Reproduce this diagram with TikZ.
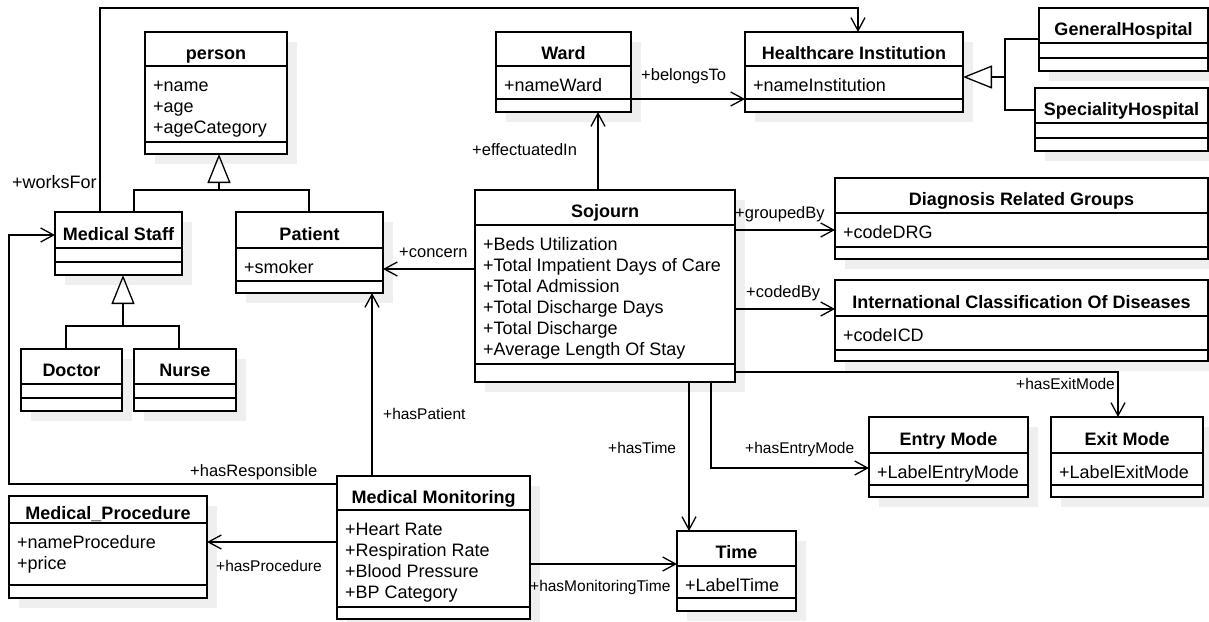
\documentclass[tikz,border=0pt]{standalone}
\usepackage{fontspec}
\setmainfont{Liberation Sans}
\usetikzlibrary{arrows.meta}
\definecolor{shadowgray}{HTML}{EFEFEF}
\tikzset{
  classbox/.style={draw, fill=white, line width=1.3pt, inner sep=0pt, outer sep=0pt, anchor=north west},
  ctitle/.style={font=\fontsize{18}{21}\selectfont\bfseries, anchor=base, inner sep=0pt},
  cattr/.style={font=\fontsize{18}{21}\selectfont, anchor=base west, inner sep=0pt},
  lbl/.style={font=\fontsize{16.5}{19}\selectfont, anchor=base west, inner sep=0pt},
  lblsm/.style={font=\fontsize{15.5}{18}\selectfont, anchor=base west, inner sep=0pt},
  lblbig/.style={font=\fontsize{18}{21}\selectfont, anchor=base west, inner sep=0pt},
  assoc/.style={line width=1.3pt, -{Straight Barb[length=13pt,width=14pt]}},
  gen/.style={line width=1.3pt, -{Triangle[open,length=29pt,width=23pt]}},
  conn/.style={line width=1.3pt},
}
% name, left, top, right, bottom, divider1, divider2, title, attributes
\newcommand\mkclass[9]{%
  \fill[shadowgray] (#2+10,#3+10) rectangle (#4+10,#5+10);
  \node[classbox, minimum width={#4-#2}, minimum height={#5-#3}] (#1) at (#2,#3) {};
  \draw[line width=1.3pt] (#2,#6) -- (#4,#6);
  \draw[line width=1.3pt] (#2,#7) -- (#4,#7);
  \node[ctitle] (#1-t) at ({(#2+#4)/2},{(#3+#6)/2+10}) {#8};
  \ifx\relax#9\relax\else
    \foreach \a [count=\i from 0] in {#9} {\node[cattr] (#1-a\i) at (#2+8,#6+25.5+21*\i) {\a};}
  \fi
}
\begin{document}
\begin{tikzpicture}[x=1pt,y=-1pt]
\useasboundingbox (0,0) rectangle (1209,621);
\fill[white] (0,0) rectangle (1209,621);

% classes
\mkclass{person}{145}{32}{287}{154}{66}{142}{person}{+name,+age,+ageCategory}
\mkclass{ms}{55}{212}{182}{275}{248}{262}{Medical Staff}{}
\mkclass{pat}{236}{212}{383}{293}{248}{281}{Patient}{+smoker}
\mkclass{ward}{496}{32}{631}{112}{66}{99}{Ward}{+nameWard}
\mkclass{hc}{745}{32}{963}{112}{66}{99}{Healthcare Institution}{+nameInstitution}
\mkclass{gh}{1039}{8}{1208}{71}{43}{58}{GeneralHospital}{}
\mkclass{sh}{1035}{88}{1208}{151}{123}{138}{SpecialityHospital}{}
\mkclass{soj}{475}{190}{735}{382}{225}{364}{Sojourn}{+Beds Utilization,+Total Impatient Days of Care,+Total Admission,+Total Discharge Days,+Total Discharge,+Average Length Of Stay}
\mkclass{drg}{835}{178}{1208}{259}{213}{247}{Diagnosis Related Groups}{+codeDRG}
\mkclass{icd}{835}{280}{1208}{361}{316}{350}{International Classification Of Diseases}{+codeICD}
\mkclass{doc}{21}{349}{122}{411}{384}{398}{Doctor}{}
\mkclass{nur}{134}{349}{236}{411}{384}{398}{Nurse}{}
\mkclass{mp}{9}{496}{207}{598}{523}{585}{Medical\_Procedure}{+nameProcedure,+price}
\mkclass{mm}{337}{476}{530}{619}{510}{607}{Medical Monitoring}{+Heart Rate,+Respiration Rate,+Blood Pressure,+BP Category}
\mkclass{time}{677}{531}{796}{611}{566}{598}{Time}{+LabelTime}
\mkclass{em}{869}{417}{1028}{497}{453}{485}{Entry Mode}{+LabelEntryMode}
\mkclass{exm}{1051}{417}{1203}{497}{453}{485}{Exit Mode}{+LabelExitMode}

% generalizations
\coordinate (pj) at (219,190);
\draw[conn] ([xshift=79]ms.north west) |- (pj) -| ([xshift=73]pat.north west);
\draw[gen] (pj) -- ([xshift=74]person.south west);

\coordinate (msj) at (123,326);
\draw[conn] ([xshift=45]doc.north west) |- (msj) -| ([xshift=45]nur.north west);
\draw[gen] (msj) -- ([xshift=68]ms.south west);

\coordinate (hj) at (1005,77);
\draw[conn] ([yshift=-31]gh.north west) -| (hj);
\draw[conn] ([yshift=-22]sh.north west) -| (hj);
\draw[gen] (hj) -- ([yshift=-45]hc.north east);

% associations
\coordinate (wfTop) at (100,8);
\draw[assoc] ([xshift=45]ms.north west) |- (wfTop) -| ([xshift=113]hc.north west);

\coordinate (mmR) at ([yshift=-8]mm.north west);
\coordinate (hrB) at (9,300);
\coordinate (msR) at ([yshift=-23]ms.north west);
\draw[assoc] (mmR) -| (hrB) |- (msR);

\coordinate (mmP) at ([yshift=-66]mm.north west);
\draw[assoc] (mmP) -- (mmP -| mp.east);

\coordinate (mmT) at ([xshift=35]mm.north west);
\draw[assoc] (mmT) -- (mmT |- pat.south);

\coordinate (sjC) at ([yshift=-79]soj.north west);
\draw[assoc] (sjC) -- (sjC -| pat.east);

\coordinate (sjW) at ([xshift=123]soj.north west);
\draw[assoc] (sjW) -- (sjW |- ward.south);

\coordinate (wB) at ([yshift=-67]ward.north east);
\draw[assoc] (wB) -- (wB -| hc.west);

\coordinate (sjG) at ([yshift=-40]soj.north east);
\draw[assoc] (sjG) -- (sjG -| drg.west);

\coordinate (sjK) at ([yshift=-119]soj.north east);
\draw[assoc] (sjK) -- (sjK -| icd.west);

\coordinate (sjX) at ([yshift=-182]soj.north east);
\draw[assoc] (sjX) -| ([xshift=67]exm.north west);

\coordinate (sjE) at ([xshift=236]soj.south west);
\coordinate (emE) at ([yshift=-51]em.north west);
\draw[assoc] (sjE) |- (emE);

\coordinate (sjT) at ([xshift=214]soj.south west);
\draw[assoc] (sjT) -- (sjT |- time.north);

\coordinate (mmM) at ([yshift=-88]mm.north east);
\draw[assoc] (mmM) -- (mmM -| time.west);

% labels
\node[lblbig] (l-wf) at (12,188.5) {+worksFor};
\node[lbl] (l-hr) at (190,476) {+hasResponsible};
\node[lblsm] (l-hp) at (216,571) {+hasProcedure};
\node[lblsm] (l-pa) at (383,419) {+hasPatient};
\node[lblsm] (l-ht) at (608,453) {+hasTime};
\node[lblsm] (l-he) at (745,453) {+hasEntryMode};
\node[lblsm] (l-hm) at (530,591) {+hasMonitoringTime};
\node[lblsm] (l-hx) at (1016,389) {+hasExitMode};
\node[lbl] (l-co) at (399,257) {+concern};
\node[lbl] (l-ef) at (472,155) {+effectuatedIn};
\node[lbl] (l-bt) at (641,80) {+belongsTo};
\node[lbl] (l-gb) at (735,218) {+groupedBy};
\node[lbl] (l-cb) at (746,297) {+codedBy};
\end{tikzpicture}
\end{document}
